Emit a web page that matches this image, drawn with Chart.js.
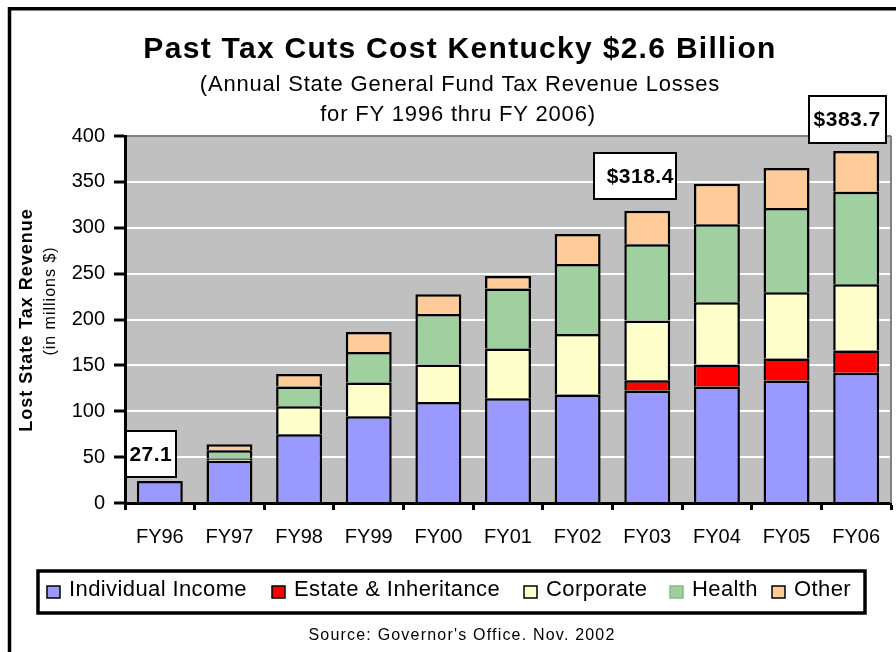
<!DOCTYPE html>
<html>
<head>
<meta charset="utf-8">
<script src="https://cdn.jsdelivr.net/npm/chart.js@4.4.1/dist/chart.umd.min.js"></script>
<style>
  html, body { margin: 0; padding: 0; background: #fff; }
  #wrap { width: 896px; height: 652px; position: relative; }
</style>
</head>
<body>
<div id="wrap"><canvas id="chart" width="896" height="652"></canvas></div>
<script>
// values, millions of dollars (null = no segment)
const categories = ["FY96", "FY97", "FY98", "FY99", "FY00", "FY01", "FY02", "FY03", "FY04", "FY05", "FY06"]
const individualIncome  = [24, 46, 75, 94.6, 110, 114.2, 118.3, 122.6, 127, 133.5, 142]
const estateInheritance = [null, null, null, null, null, null, null, 11.3, 24, 24.1, 24.3]
const corporate         = [null, 2.5, 30.5, 36.8, 41, 54.3, 65.8, 65.1, 67.7, 72, 72.1]
const health            = [null, 9, 21.5, 33.1, 55, 65.2, 76.4, 83, 85.2, 91.8, 100.8]
const other             = [null, 6.5, 13.5, 21.8, 21.5, 13.8, 32.8, 36.4, 44, 43.6, 44.5]
const yTicks = [0, 50, 100, 150, 200, 250, 300, 350, 400]
const callouts = [
  { index: 0, text: "27.1" },
  { index: 7, text: "$318.4" },
  { index: 10, text: "$383.7" }
]

const FONT = 'Arial, "Liberation Sans", sans-serif'
Chart.defaults.font.family = FONT
Chart.defaults.color = "#000"

// where each callout box sits relative to its bar (px)
const calloutStyle = [
  { dx: -9, gap: 4, w: 50, h: 46, tdx: 0 },
  { dx: -12, gap: 12, w: 82, h: 46, tdx: 5 },
  { dx: -9, gap: 8, w: 77, h: 47, tdx: 0 }
]
// legend swatch x positions
const legendX = [47, 272, 524, 670, 772]

const decor = {
  id: "decor",
  beforeDraw(chart) {
    const { ctx, chartArea: a } = chart
    ctx.save()
    ctx.fillStyle = "#fff"
    ctx.fillRect(0, 0, chart.width, chart.height)
    ctx.fillStyle = "#c0c0c0"
    ctx.fillRect(a.left, a.top, a.right - a.left, a.bottom - a.top)
    ctx.restore()
  },
  beforeDatasetsDraw(chart) {
    const { ctx, chartArea: a } = chart
    ctx.save()
    ctx.strokeStyle = "#808080"
    ctx.lineWidth = 2
    ctx.beginPath()
    ctx.moveTo(a.right, a.top)
    ctx.lineTo(a.right, a.bottom)
    ctx.stroke()
    ctx.restore()
  },
  afterDraw(chart) {
    const { ctx } = chart
    const xs = chart.scales.x, ys = chart.scales.y
    ctx.save()

    // outer frame
    ctx.strokeStyle = "#000"
    ctx.lineWidth = 3.5
    ctx.strokeRect(9.5, 8.75, 1000, 1000)

    // titles
    ctx.fillStyle = "#000"
    ctx.textAlign = "center"
    ctx.textBaseline = "middle"
    ctx.font = `bold 30px ${FONT}`
    ctx.letterSpacing = "1.3px"
    ctx.fillText("Past Tax Cuts Cost Kentucky $2.6 Billion", 460, 50)
    ctx.font = `22px ${FONT}`
    ctx.letterSpacing = "0.8px"
    ctx.fillText("(Annual State General Fund Tax Revenue Losses", 460, 85)
    ctx.fillText("for FY 1996 thru FY 2006)", 458, 115)

    // y axis title
    ctx.save()
    ctx.translate(27, 320)
    ctx.rotate(-Math.PI / 2)
    ctx.font = `bold 18px ${FONT}`
    ctx.letterSpacing = "1px"
    ctx.fillText("Lost State Tax Revenue", 0, 0)
    ctx.restore()
    ctx.save()
    ctx.translate(51, 301)
    ctx.rotate(-Math.PI / 2)
    ctx.font = `16px ${FONT}`
    ctx.letterSpacing = "1px"
    ctx.fillText("(in millions $)", 0, 0)
    ctx.restore()

    // legend
    ctx.lineWidth = 3.5
    ctx.strokeStyle = "#000"
    ctx.strokeRect(38, 571, 827, 42)
    ctx.font = `22px ${FONT}`
    ctx.letterSpacing = "0.4px"
    ctx.textAlign = "left"
    chart.data.datasets.forEach((ds, i) => {
      const x = legendX[i]
      ctx.fillStyle = ds.backgroundColor
      ctx.fillRect(x, 586, 13, 12)
      ctx.lineWidth = 1.5
      ctx.strokeStyle = ds.label === "Health" ? "#86b886" : "#000"
      ctx.strokeRect(x, 586, 13, 12)
      ctx.fillStyle = "#000"
      ctx.fillText(ds.label, x + 22, 590)
    })

    // source
    ctx.textAlign = "center"
    ctx.font = `16px ${FONT}`
    ctx.letterSpacing = "1.2px"
    ctx.fillText("Source: Governor's Office. Nov. 2002", 462, 636)

    // callouts
    ctx.font = `bold 21px ${FONT}`
    ctx.letterSpacing = "0.5px"
    callouts.forEach((c, k) => {
      const s = calloutStyle[k]
      const total = chart.data.datasets.reduce((sum, ds) => sum + (ds.data[c.index] || 0), 0)
      const cx = xs.getPixelForValue(c.index) + s.dx
      const bottom = ys.getPixelForValue(total) - s.gap
      const left = Math.round(cx - s.w / 2), top = Math.round(bottom - s.h)
      ctx.fillStyle = "#fff"
      ctx.fillRect(left, top, s.w, s.h)
      ctx.strokeStyle = "#000"
      ctx.lineWidth = 2
      ctx.strokeRect(left, top, s.w, s.h)
      ctx.fillStyle = "#000"
      ctx.fillText(c.text, cx + s.tdx, top + s.h / 2 + 1)
    })

    ctx.restore()
  }
}

const mkSet = (label, data, color) => ({
  label, data,
  backgroundColor: color,
  borderColor: "#000",
  borderWidth: { top: 2.5, left: 2.5, right: 2.5, bottom: 0 },
  borderSkipped: false,
  categoryPercentage: 1,
  barPercentage: 0.66
})

new Chart(document.getElementById("chart").getContext("2d"), {
  type: "bar",
  data: {
    labels: categories,
    datasets: [
      mkSet("Individual Income", individualIncome, "#9999ff"),
      mkSet("Estate & Inheritance", estateInheritance, "#ff0000"),
      mkSet("Corporate", corporate, "#ffffcc"),
      mkSet("Health", health, "#a0cfa0"),
      mkSet("Other", other, "#ffcc99")
    ]
  },
  options: {
    responsive: false,
    animation: false,
    devicePixelRatio: 1,
    layout: { padding: { top: 136, right: 5, left: 0, bottom: 0 } },
    plugins: { legend: { display: false }, title: { display: false }, tooltip: { enabled: false } },
    scales: {
      x: {
        stacked: true,
        afterFit: (s) => { s.height = 149 },
        border: { display: true, color: "#000", width: 3 },
        grid: { drawOnChartArea: false, drawTicks: true, tickLength: 7, tickColor: "#000", tickWidth: 3, offset: true },
        ticks: { font: { size: 20 }, color: "#000", padding: 15, maxRotation: 0 }
      },
      y: {
        stacked: true,
        min: 0,
        max: 400,
        afterFit: (s) => { s.width = 125 },
        afterBuildTicks: (s) => { s.ticks = yTicks.map((v) => ({ value: v })) },
        border: { display: true, color: "#000", width: 3 },
        grid: {
          color: (c) => (c.tick && c.tick.value === 400 ? "#808080" : "#ffffff"),
          lineWidth: 2,
          tickLength: 11,
          tickColor: "#000",
          tickWidth: 3
        },
        ticks: { font: { size: 20 }, color: "#000", padding: 9 }
      }
    }
  },
  plugins: [decor]
})
</script>
</body>
</html>
